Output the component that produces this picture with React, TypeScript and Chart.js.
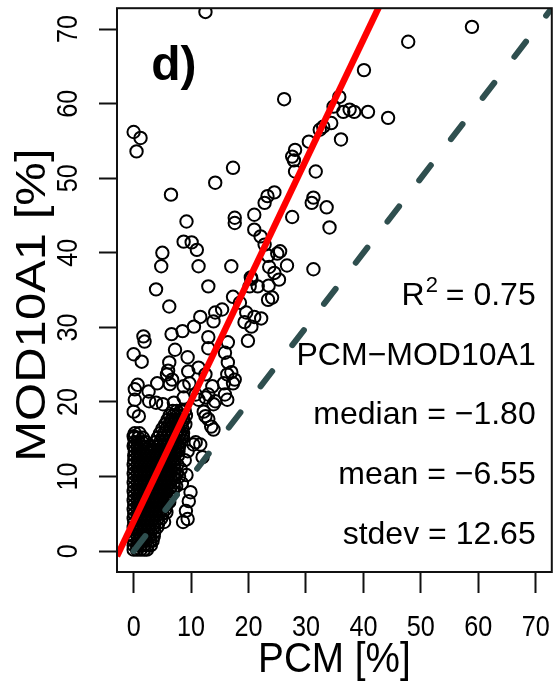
import React, { useEffect, useRef } from "react";
import { Chart, registerables } from "chart.js";

Chart.register(...registerables);

// ---- axis ranges, ticks and labels ----
const xRange = [-2.9, 72.8];
const yRange = [-2.8, 72.8];
const tickStep = 10;
const xTitle = "PCM [%]";
const yTitle = "MOD10A1 [%]";
const panelLabel = "d)";

// ---- regression and statistics ----
const fitIntercept = 4.0;
const fitSlope = 1.615;
const rSquaredText = "0.75";
const statLabels = ["PCM\u2212MOD10A1", "median = \u22121.80", "mean = \u22126.55", "stdev = 12.65"];
const statRows = [25, 17, 9, 1]; // MOD10A1 values of the text baselines
const rSquaredRow = 33;
const statColumn = 70;

// ---- scattered points [PCM, MOD10A1] ----
const scatteredPoints: [number, number][] = [
  [12.5, 72.3], [58.9, 70.3], [47.8, 68.3], [40.1, 64.5], [26.2, 60.6], [35.8, 60.9],
  [34.8, 59.6], [36.5, 58.9], [37.6, 59.2], [38.4, 58.9], [40.8, 58.9], [44.3, 58.1],
  [34.4, 57.4], [33.0, 56.9], [32.4, 56.5], [36.1, 55.2], [30.5, 54.9], [28.1, 53.8],
  [27.6, 52.9], [27.9, 52.4], [28.1, 50.9], [31.7, 50.9], [24.5, 48.1], [31.3, 47.4],
  [0.0, 56.2], [1.2, 55.4], [0.5, 53.6], [17.3, 51.4], [14.2, 49.4], [6.5, 47.8],
  [23.3, 47.6], [22.8, 46.7], [21.0, 45.1], [17.6, 44.7], [17.6, 44.0], [21.0, 43.1],
  [22.1, 42.2], [22.8, 41.1], [9.2, 44.2], [8.7, 41.5], [10.1, 41.4], [11.0, 40.4],
  [11.3, 38.2], [5.0, 40.0], [4.8, 38.2], [17.0, 38.2], [3.9, 35.1], [13.0, 35.5],
  [23.4, 39.6], [25.0, 39.9], [26.7, 38.3], [23.6, 38.1], [24.5, 37.3], [25.3, 36.4],
  [23.5, 35.6], [24.1, 34.0], [23.4, 33.7], [20.4, 36.7], [21.6, 35.5], [31.0, 46.7],
  [33.6, 46.1], [34.1, 43.4], [27.6, 44.8], [25.5, 40.2], [31.3, 37.8],
  [6.2, 32.8], [15.4, 32.4], [14.2, 32.0], [11.6, 31.4], [10.5, 30.1], [8.5, 29.5],
  [6.6, 29.1], [13.9, 30.8], [1.7, 28.8], [1.9, 28.1], [0.0, 26.4], [1.4, 25.4],
  [7.2, 27.0], [9.4, 26.0], [13.0, 28.7], [13.0, 27.2], [6.2, 25.3], [6.0, 24.2],
  [9.5, 24.1], [11.3, 24.6], [15.9, 26.6], [16.4, 28.0], [16.4, 25.3], [17.0, 24.0],
  [19.9, 28.2], [22.2, 31.2], [21.0, 31.4], [19.6, 32.0], [19.3, 30.7], [20.5, 30.1],
  [17.3, 34.1], [18.5, 33.3], [20.5, 36.5], [20.2, 35.5], [5.8, 23.7], [6.7, 23.0],
  [8.7, 22.1], [0.7, 22.3], [0.2, 21.7], [2.6, 21.4], [4.1, 22.5], [6.3, 22.4],
  [9.7, 22.5], [12.5, 23.7], [13.7, 22.1], [15.7, 22.5], [16.3, 23.7], [17.3, 22.5],
  [17.6, 23.0], [0.2, 20.3], [0.0, 18.7], [0.9, 18.1], [2.7, 20.1], [3.9, 19.9],
  [5.1, 19.7], [7.0, 19.9], [8.7, 20.6], [10.8, 21.0], [12.5, 20.6], [13.9, 19.7],
  [16.3, 20.3], [11.3, 20.3], [12.2, 18.7], [13.0, 17.7], [12.5, 18.1], [13.9, 16.3],
  [13.5, 16.7], [14.2, 20.1], [15.9, 21.0], [13.0, 21.0], [0.0, 15.4], [0.0, 14.1],
  [8.6, 15.3], [9.4, 13.4], [10.8, 14.6], [10.4, 14.3], [11.6, 14.3], [12.0, 12.6],
  [9.9, 7.9], [9.6, 6.7], [9.1, 5.4], [9.4, 4.3], [8.6, 3.9], [5.3, 3.9], [5.7, 5.2],
  [6.2, 6.6], [8.2, 11.0], [7.9, 10.0], [7.4, 8.7], [8.9, 12.2], [9.2, 10.2],
  [8.4, 9.1], [7.7, 13.9],
];

// ---- dense core near the origin: MOD10A1 level and the PCM values at that level ----
const coreMod = [
  0.2, 0.8, 1.4, 2.0, 2.6, 3.2, 3.8, 4.4, 5.0, 5.6, 6.2, 6.8, 7.4, 8.0, 8.6, 9.2,
  9.8, 10.4, 11.0, 11.6, 12.2, 12.8, 13.4, 14.0, 14.6, 15.2, 15.8, 16.4, 17.0, 17.6,
  18.2, 18.8,
];
const corePcm: number[][] = [
  [0.0, 0.6, 1.2, 1.8, 2.3],
  [0.0, 0.6, 1.2, 1.8, 2.4, 3.0],
  [0.1, 0.8, 1.5, 2.2, 2.9, 3.3],
  [0.0, 0.7, 1.4, 2.1, 2.8, 3.5],
  [0.1, 0.8, 1.5, 2.2, 2.9, 3.6],
  [0.0, 0.7, 1.4, 2.1, 2.8, 3.5, 4.1],
  [0.1, 0.8, 1.5, 2.2, 2.9, 3.6, 4.3],
  [0.0, 0.7, 1.4, 2.1, 2.8, 3.5, 4.2, 4.8],
  [0.1, 0.8, 1.5, 2.2, 2.9, 3.6, 4.3, 5.0],
  [0.0, 0.7, 1.4, 2.1, 2.8, 3.5, 4.2, 4.9, 5.5],
  [0.1, 0.8, 1.5, 2.2, 2.9, 3.6, 4.3, 5.0, 5.7],
  [0.0, 0.7, 1.4, 2.1, 2.8, 3.5, 4.2, 4.9, 5.6, 6.1],
  [0.1, 0.8, 1.5, 2.2, 2.9, 3.6, 4.3, 5.0, 5.7, 6.3],
  [0.0, 0.7, 1.4, 2.1, 2.8, 3.5, 4.2, 4.9, 5.6, 6.3, 6.8],
  [0.1, 0.8, 1.5, 2.2, 2.9, 3.6, 4.3, 5.0, 5.7, 6.4, 7.0],
  [0.0, 0.7, 1.4, 2.1, 2.8, 3.5, 4.2, 4.9, 5.6, 6.3, 7.0],
  [0.1, 0.8, 1.5, 2.2, 2.9, 3.6, 4.3, 5.0, 5.7, 6.4, 7.1],
  [0.0, 0.7, 1.4, 2.1, 2.8, 3.5, 4.2, 4.9, 5.6, 6.3, 7.0, 7.5],
  [0.1, 0.8, 1.5, 2.2, 2.9, 3.6, 4.3, 5.0, 5.7, 6.4, 7.1],
  [0.0, 0.7, 1.4, 2.1, 2.8, 3.5, 4.2, 4.9, 5.6, 6.3, 7.0, 7.6],
  [0.1, 0.8, 1.5, 2.2, 2.9, 3.6, 4.3, 5.0, 5.7, 6.4, 7.1],
  [0.1, 0.7, 1.4, 2.1, 2.8, 3.5, 4.2, 4.9, 5.6, 6.3, 7.0, 7.7],
  [0.2, 0.8, 1.5, 2.2, 2.9, 3.6, 4.3, 5.0, 5.7, 6.4, 7.1, 7.8],
  [0.1, 0.7, 1.4, 2.1, 2.8, 3.6, 4.4, 5.1, 5.8, 6.5, 7.2, 7.9],
  [0.2, 0.8, 1.5, 2.2, 3.8, 4.6, 5.3, 6.0, 6.7, 7.4, 8.0],
  [0.1, 0.8, 1.6, 4.2, 5.0, 5.7, 6.4, 7.1, 7.8, 8.3],
  [0.2, 1.0, 4.6, 5.3, 6.0, 6.7, 7.4, 8.1, 8.6],
  [5.0, 5.7, 6.4, 7.1, 7.8, 8.5],
  [5.5, 6.2, 6.9, 7.6, 8.3, 9.0],
  [5.9, 6.6, 7.3, 8.0, 8.7],
  [6.3, 7.0, 7.7, 8.4, 9.1],
  [6.8, 7.5, 8.2, 8.9],
];

const FONT = "'Liberation Sans', Arial, Helvetica, sans-serif";

function drawText(
  ctx: CanvasRenderingContext2D,
  text: string,
  x: number,
  y: number,
  font: string,
  sx: number,
  align: CanvasTextAlign,
  baseline: CanvasTextBaseline,
  rotate = false
) {
  ctx.save();
  ctx.translate(x, y);
  if (rotate) ctx.rotate(-Math.PI / 2);
  ctx.scale(sx, 1);
  ctx.font = font;
  ctx.textAlign = align;
  ctx.textBaseline = baseline;
  ctx.fillStyle = "#000";
  ctx.fillText(text, 0, 0);
  ctx.restore();
}

const decorPlugin = {
  id: "rDecor",
  afterDraw(chart: any) {
    const { ctx, chartArea, scales } = chart;
    const xs = scales.x;
    const ys = scales.y;
    ctx.save();
    // box
    ctx.strokeStyle = "#111";
    ctx.lineWidth = 2;
    ctx.strokeRect(chartArea.left, chartArea.top, chartArea.right - chartArea.left, chartArea.bottom - chartArea.top);

    // tick labels
    xs.ticks.forEach((t: any) => {
      drawText(ctx, String(t.value), xs.getPixelForValue(t.value), 628, `30px ${FONT}`, 0.84, "center", "middle");
    });
    ys.ticks.forEach((t: any) => {
      drawText(ctx, String(t.value), 69, ys.getPixelForValue(t.value), `30px ${FONT}`, 0.84, "center", "middle", true);
    });

    // axis titles
    const cx = (chartArea.left + chartArea.right) / 2;
    const cy = (chartArea.top + chartArea.bottom) / 2;
    drawText(ctx, xTitle, cx, 672, `43px ${FONT}`, 0.9, "center", "alphabetic");
    drawText(ctx, yTitle, 33, cy + 15, `43px ${FONT}`, 1.14, "center", "middle", true);

    // panel label
    drawText(ctx, panelLabel, xs.getPixelForValue(7), ys.getPixelForValue(65), `bold 48px ${FONT}`, 1, "center", "middle");

    // statistics text (right aligned)
    const rx = xs.getPixelForValue(statColumn);
    statLabels.forEach((s, i) => {
      drawText(ctx, s, rx, ys.getPixelForValue(statRows[i]), `32px ${FONT}`, 1, "right", "alphabetic");
    });
    // R^2 line
    const by = ys.getPixelForValue(rSquaredRow);
    ctx.font = `32px ${FONT}`;
    const restW = ctx.measureText(" = " + rSquaredText).width;
    const rW = ctx.measureText("R").width;
    ctx.font = `22px ${FONT}`;
    const supW = ctx.measureText("2").width;
    const startX = rx - restW - supW - rW;
    drawText(ctx, "R", startX, by, `32px ${FONT}`, 1, "left", "alphabetic");
    drawText(ctx, "2", startX + rW + 1, by - 13, `22px ${FONT}`, 1, "left", "alphabetic");
    drawText(ctx, " = " + rSquaredText, startX + rW + supW, by, `32px ${FONT}`, 1, "left", "alphabetic");
    ctx.restore();
  },
};

export default function App() {
  const ref = useRef<HTMLCanvasElement>(null);
  useEffect(() => {
    const canvas = ref.current;
    if (!canvas) return;
    const points = [
      ...scatteredPoints.map(([x, y]) => ({ x, y })),
      ...coreMod.flatMap((m, i) => corePcm[i].map((p) => ({ x: p, y: m }))),
    ];
    const fitLine = [
      { x: xRange[0], y: fitIntercept + fitSlope * xRange[0] },
      { x: xRange[1], y: fitIntercept + fitSlope * xRange[1] },
    ];
    const oneToOne = [
      { x: 0, y: 0 },
      { x: 80, y: 80 },
    ];
    const chart = new Chart(canvas, {
      type: "scatter",
      data: {
        datasets: [
          {
            type: "line",
            data: fitLine,
            borderColor: "#ff0000",
            borderWidth: 6.5,
            pointRadius: 0,
            clip: 0,
            order: 0,
          } as any,
          {
            type: "line",
            data: oneToOne,
            borderColor: "#2f4f4f",
            borderWidth: 6,
            borderDash: [19, 33],
            borderCapStyle: "round",
            pointRadius: 0,
            clip: 0,
            order: 1,
          } as any,
          {
            data: points,
            pointStyle: "circle",
            pointRadius: 6.2,
            borderWidth: 2,
            borderColor: "#000",
            backgroundColor: "rgba(0,0,0,0)",
            clip: 0,
            order: 2,
          } as any,
        ],
      },
      options: {
        responsive: false,
        animation: false,
        devicePixelRatio: 1,
        events: [],
        layout: { padding: { top: 8, right: 1, left: 0, bottom: 0 } },
        plugins: { legend: { display: false }, tooltip: { enabled: false } },
        scales: {
          x: {
            type: "linear",
            min: xRange[0],
            max: xRange[1],
            afterFit: (s: any) => {
              s.height = 112;
            },
            ticks: { display: false, stepSize: tickStep, includeBounds: false },
            grid: { drawOnChartArea: false, drawTicks: true, tickLength: 21, tickWidth: 2, tickColor: "#111" },
            border: { display: false },
          },
          y: {
            type: "linear",
            min: yRange[0],
            max: yRange[1],
            afterFit: (s: any) => {
              s.width = 117;
            },
            ticks: { display: false, stepSize: tickStep, includeBounds: false },
            grid: { drawOnChartArea: false, drawTicks: true, tickLength: 18, tickWidth: 2, tickColor: "#111" },
            border: { display: false },
          },
        },
      },
      plugins: [decorPlugin],
    });
    return () => chart.destroy();
  }, []);
  return (
    <div style={{ position: "absolute", left: 0, top: 0, width: 560, height: 684, background: "#fff" }}>
      <canvas ref={ref} width={560} height={684} style={{ display: "block" }} />
    </div>
  );
}
